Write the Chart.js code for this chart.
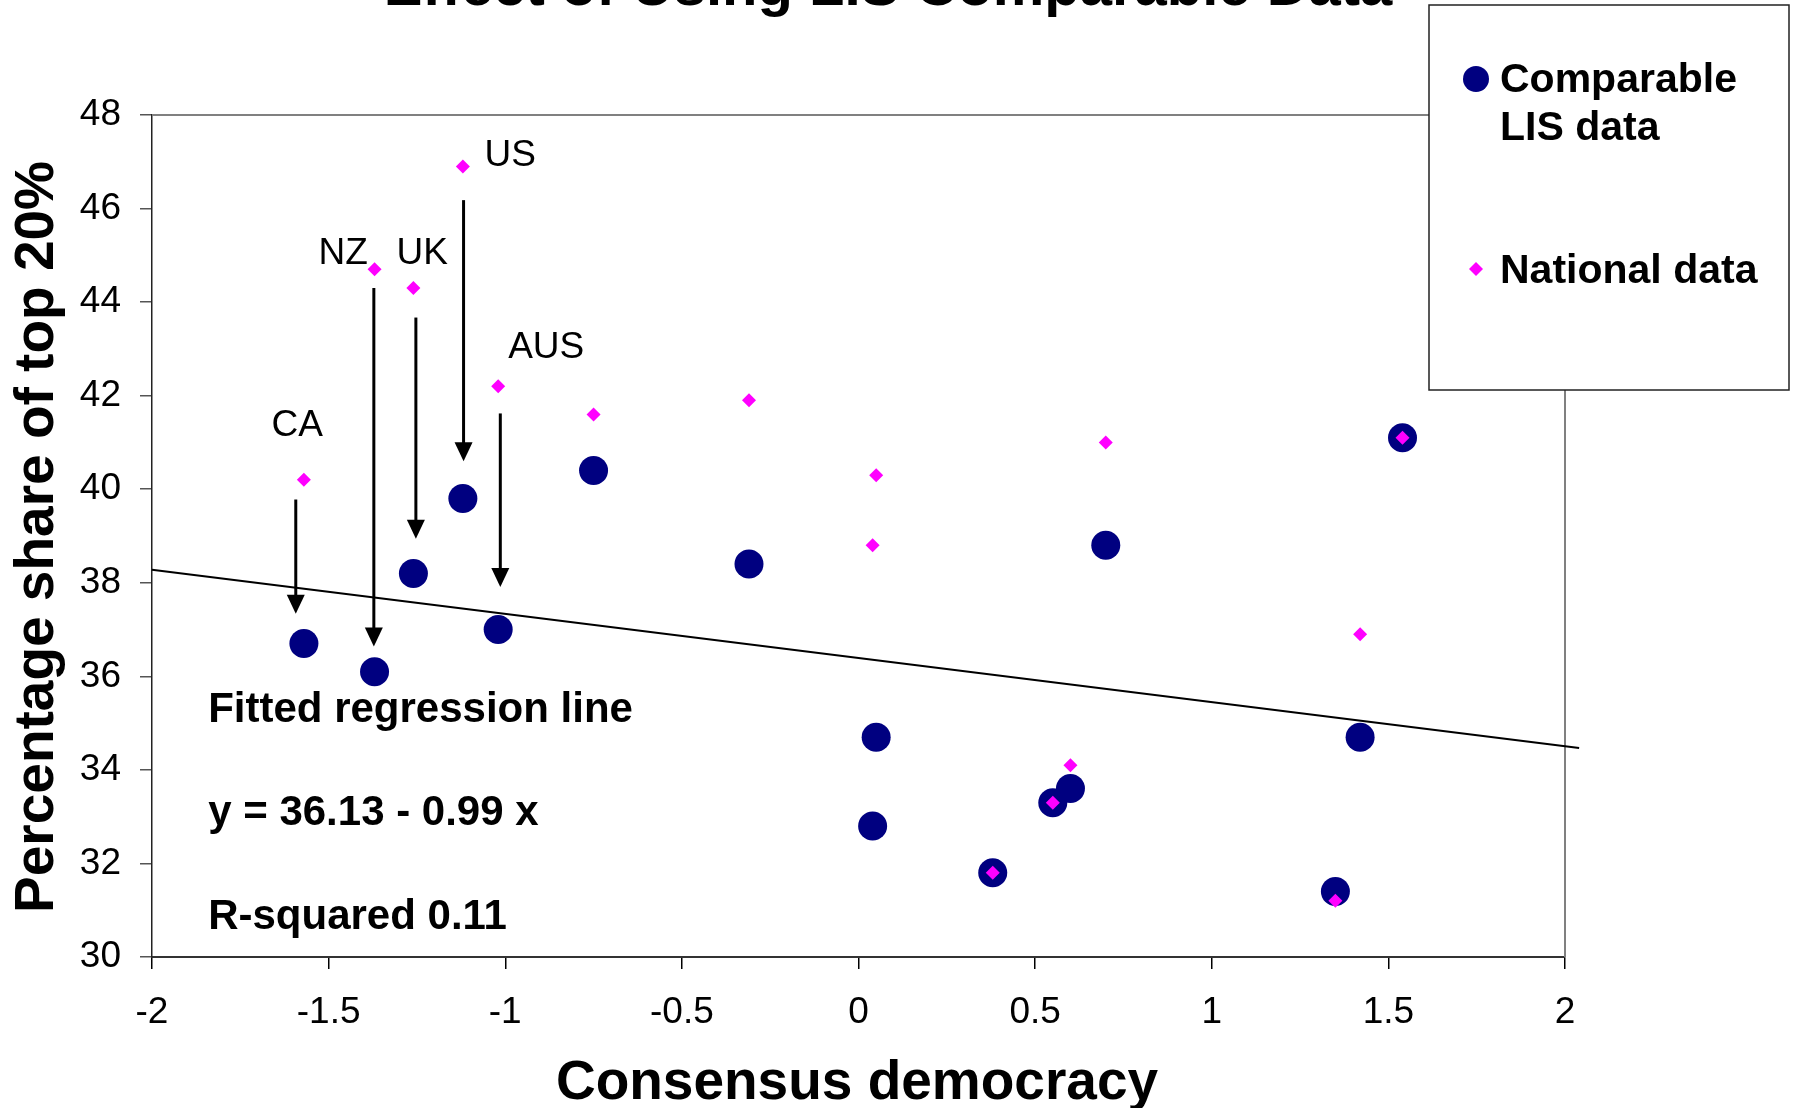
<!DOCTYPE html>
<html>
<head>
<meta charset="utf-8">
<title>Effect of Using LIS Comparable Data</title>
<script src="https://cdn.jsdelivr.net/npm/chart.js@4.4.1/dist/chart.umd.min.js"></script>
<style>
 html,body{margin:0;padding:0;background:#fff;}
 #wrap{width:1793px;height:1108px;position:relative;}
</style>
</head>
<body>
<div id="wrap"><canvas id="consensoChart"></canvas></div>
<script>
// datos
const consensusX=[-1.57,-1.37,-1.26,-1.12,-1.02,-0.75,-0.31,0.05,0.04,0.38,0.55,0.60,0.70,1.35,1.42,1.54];
const lisShare=[36.7,36.1,38.2,39.8,37.0,40.4,38.4,34.7,32.8,31.8,33.3,33.6,38.8,31.4,34.7,41.1];
const nationalShare=[40.2,44.7,44.3,46.9,42.2,41.6,41.9,40.3,38.8,31.8,33.3,34.1,41.0,31.2,36.9,41.1];

// recta de regresion (extremos como se ven)
const regX=[-2,2.04];
const regY=[38.28,34.47];

// etiquetas de paises y flechas
const countryNames=['CA','NZ','UK','US','AUS'];
const countryLabelX=[-1.589,-1.459,-1.235,-0.986,-0.884];
const countryLabelY=[41.13,44.81,44.81,46.92,42.80];
const arrowX=[-1.593,-1.372,-1.253,-1.118,-1.014];
const arrowFrom=[39.78,44.30,43.67,46.18,41.62];
const arrowTo=[37.34,36.64,38.94,40.60,37.91];

const noteLines=['Fitted regression line','y = 36.13 - 0.99 x','R-squared 0.11'];
const noteY=[35.03,32.82,30.60];
const noteX=-1.841;

const xTicks=[-2,-1.5,-1,-0.5,0,0.5,1,1.5,2];
const yTicks=[30,32,34,36,38,40,42,44,46,48];

const FONT="'Liberation Sans', Arial, sans-serif";

document.addEventListener("DOMContentLoaded",function(){
 const ctx=document.getElementById('consensoChart');

 const toPoints=(xs,ys)=>xs.map((x,i)=>({x:x,y:ys[i]}));

 // dibujo extra: marco, titulo, leyenda, flechas, textos
 const extras={
  id:'extras',
  beforeDatasetsDraw(chart){
   const c=chart.ctx, a=chart.chartArea;
   c.save();
   c.strokeStyle='#808080';
   c.lineWidth=2;
   c.beginPath();
   c.moveTo(a.left,a.top);
   c.lineTo(a.right,a.top);
   c.lineTo(a.right,a.bottom);
   c.stroke();
   c.restore();
  },
  afterDatasetsDraw(chart){
   const c=chart.ctx;
   const xs=chart.scales.x, ys=chart.scales.y;
   c.save();

   // flechas
   c.strokeStyle='#000';
   c.fillStyle='#000';
   c.lineWidth=3;
   arrowX.forEach((ax,i)=>{
    const px=xs.getPixelForValue(ax);
    const y0=ys.getPixelForValue(arrowFrom[i]);
    const y1=ys.getPixelForValue(arrowTo[i]);
    c.beginPath();
    c.moveTo(px,y0);
    c.lineTo(px,y1-16);
    c.stroke();
    c.beginPath();
    c.moveTo(px-9,y1-19);
    c.lineTo(px+9,y1-19);
    c.lineTo(px,y1);
    c.closePath();
    c.fill();
   });

   // nombres de paises
   c.font='37px '+FONT;
   c.textAlign='center';
   c.textBaseline='alphabetic';
   countryNames.forEach((n,i)=>{
    c.fillText(n,xs.getPixelForValue(countryLabelX[i]),ys.getPixelForValue(countryLabelY[i]));
   });

   // texto de la regresion
   c.font='bold 42px '+FONT;
   c.textAlign='left';
   noteLines.forEach((t,i)=>{
    c.fillText(t,xs.getPixelForValue(noteX),ys.getPixelForValue(noteY[i]));
   });

   // titulo (cortado arriba)
   c.font='bold 58px '+FONT;
   c.textAlign='center';
   c.fillText('Effect of Using LIS Comparable Data',888,5);

   // titulos de ejes
   c.font='bold 55px '+FONT;
   c.fillText('Consensus democracy',857,1099);
   c.save();
   c.translate(53,537);
   c.rotate(-Math.PI/2);
   c.fillText('Percentage share of top 20%',0,0);
   c.restore();

   // leyenda
   c.fillStyle='#fff';
   c.fillRect(1429,5,360,385);
   c.strokeStyle='#222';
   c.lineWidth=1.5;
   c.strokeRect(1429,5,360,385);
   c.fillStyle='#000080';
   c.beginPath();
   c.arc(1476,79,13,0,Math.PI*2);
   c.fill();
   c.fillStyle='#ff00ff';
   c.beginPath();
   c.moveTo(1476,262);
   c.lineTo(1483,269);
   c.lineTo(1476,276);
   c.lineTo(1469,269);
   c.closePath();
   c.fill();
   c.fillStyle='#000';
   c.font='bold 41px '+FONT;
   c.textAlign='left';
   c.fillText('Comparable',1500,92);
   c.fillText('LIS data',1500,140);
   c.fillText('National data',1500,283);

   c.restore();
  }
 };

 new Chart(ctx,{
  type:'scatter',
  data:{
   datasets:[{
     label:'National data',
     data:toPoints(consensusX,nationalShare),
     pointStyle:'rectRot',
     pointRadius:7,
     pointHoverRadius:7,
     backgroundColor:'#ff00ff',
     borderColor:'#ff00ff',
     borderWidth:0,
     order:0
    },{
     label:'Comparable LIS data',
     data:toPoints(consensusX,lisShare),
     pointStyle:'circle',
     pointRadius:14.5,
     pointHoverRadius:14.5,
     backgroundColor:'#000080',
     borderColor:'#000080',
     borderWidth:0,
     order:1
    },{
     type:'line',
     label:'Fitted regression line',
     data:toPoints(regX,regY),
     borderColor:'#000',
     borderWidth:2,
     pointRadius:0,
     fill:false,
     clip:false,
     order:2
   }]
  },
  options:{
   responsive:true,
   maintainAspectRatio:false,
   animation:false,
   layout:{padding:{left:0,top:115,right:228,bottom:0}},
   scales:{
    x:{
     type:'linear',
     min:-2,
     max:2,
     afterBuildTicks:(s)=>{s.ticks=xTicks.map(v=>({value:v}));},
     afterFit:(s)=>{s.height=151;},
     ticks:{color:'#000',font:{family:FONT,size:37},padding:22,maxRotation:0,autoSkip:false,
      callback:(v)=>String(v)},
     grid:{drawOnChartArea:false,drawTicks:true,tickLength:12,color:'#000',lineWidth:1.5},
     border:{display:true,color:'#333',width:2}
    },
    y:{
     min:30,
     max:48,
     afterBuildTicks:(s)=>{s.ticks=yTicks.map(v=>({value:v}));},
     afterFit:(s)=>{s.width=152;},
     ticks:{color:'#000',font:{family:FONT,size:37},padding:19,autoSkip:false,
      callback:(v)=>String(v)},
     grid:{drawOnChartArea:false,drawTicks:true,tickLength:12,color:'#555',lineWidth:1.5},
     border:{display:true,color:'#222',width:1.5}
    }
   },
   plugins:{
    legend:{display:false},
    tooltip:{enabled:false},
    title:{display:false}
   }
  },
  plugins:[extras]
 });
});
</script>
</body>
</html>
